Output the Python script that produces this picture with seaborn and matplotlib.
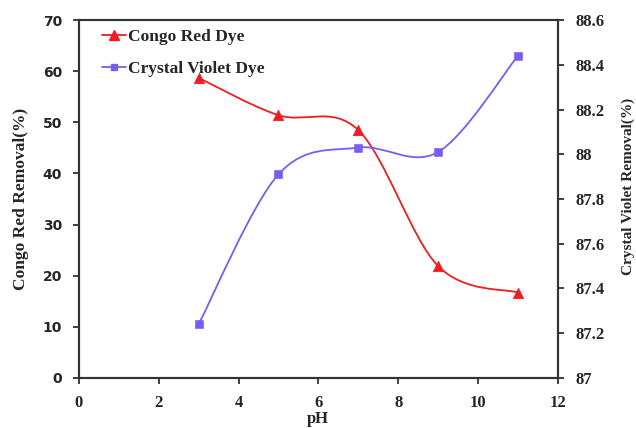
import numpy as np
import matplotlib
matplotlib.use('Agg')
import matplotlib.pyplot as plt
import seaborn as sns
from matplotlib.path import Path
from matplotlib.patches import PathPatch
from matplotlib.lines import Line2D

# pH values and removal (%) for the two dyes
ph = [3, 5, 7, 9, 11]
congo_red = [58.7, 51.4, 48.5, 21.9, 16.7]
crystal_violet = [87.24, 87.91, 88.03, 88.01, 88.44]

red = '#ee1d23'
violet = '#7b5cf0'


def smooth_path(x, y):
    # Excel-style smoothed line: cubic Bezier segments through the points
    pts = np.column_stack([x, y]).astype(float)
    verts = [pts[0]]
    codes = [Path.MOVETO]
    n = len(pts)
    for i in range(n - 1):
        p0 = pts[i - 1] if i > 0 else pts[i]
        p1 = pts[i]
        p2 = pts[i + 1]
        p3 = pts[i + 2] if i + 2 < n else pts[i + 1]
        c1 = p1 + (p2 - p0) / 6
        c2 = p2 - (p3 - p1) / 6
        verts += [c1, c2, p2]
        codes += [Path.CURVE4] * 3
    return Path(verts, codes)


sns.set_style('white')
serif = 'Liberation Serif'
fig, ax = plt.subplots(figsize=(6.36, 4.28), dpi=100)
ax2 = ax.twinx()

ax.add_patch(PathPatch(smooth_path(ph, congo_red), fc='none', ec=red, lw=1.3))
sns.scatterplot(x=ph, y=congo_red, ax=ax, marker='^', color=red, s=55,
                edgecolor=red, legend=False, zorder=3)

ax2.add_patch(PathPatch(smooth_path(ph, crystal_violet), fc='none', ec=violet, lw=1.3))
sns.scatterplot(x=ph, y=crystal_violet, ax=ax2, marker='s', color=violet, s=30,
                edgecolor=violet, legend=False, zorder=3)

ax.set_xlim(0, 12)
ax.set_ylim(0, 70)
ax2.set_ylim(87, 88.6)
ax.set_xticks(range(0, 13, 2))
ax.set_yticks(range(0, 71, 10))
r_ticks = np.round(np.arange(87, 88.61, 0.2), 1)
ax2.set_yticks(r_ticks)
ax2.set_yticklabels([f'{t:g}' for t in r_ticks])

for a in (ax, ax2):
    for s in a.spines.values():
        s.set_color('#333333')
        s.set_linewidth(1.5)
    a.tick_params(direction='out', length=4, width=1.3, color='#333333')

ax.tick_params(axis='x', bottom=True, labelsize=12, pad=8)
ax.tick_params(axis='y', left=True, labelsize=10, pad=8)
ax2.tick_params(axis='y', right=True, labelsize=12, pad=9)
for lab in ax.get_xticklabels() + ax2.get_yticklabels():
    lab.set_fontfamily(serif)
    lab.set_fontweight('bold')
for lab in ax.get_yticklabels():
    lab.set_fontfamily('DejaVu Sans')
    lab.set_fontweight('bold')

ax.set_xlabel('pH', fontfamily=serif, fontweight='bold', fontsize=12)
ax.set_ylabel('Congo Red Removal(%)', fontfamily=serif, fontweight='bold', fontsize=12.5)
ax2.set_ylabel('Crystal Violet Removal(%)', fontfamily=serif, fontweight='bold', fontsize=11,
               rotation=90)
ax.xaxis.set_label_coords(0.5, -0.093)
ax.yaxis.set_label_coords(-0.104, 0.5)
ax2.yaxis.set_label_coords(1.134, 0.536)

handles = [Line2D([], [], color=red, marker='^', ms=7, lw=1.3),
           Line2D([], [], color=violet, marker='s', ms=5, lw=1.3)]
ax.legend(handles, ['Congo Red Dye', 'Crystal Violet Dye'], loc='upper left',
          bbox_to_anchor=(0.015, 1.02), frameon=False, handlelength=1.4, handletextpad=0.1,
          labelspacing=0.95, prop={'family': serif, 'weight': 'bold', 'size': 12.5})

fig.subplots_adjust(left=0.124, right=0.877, top=0.953, bottom=0.117)
fig.savefig('out.png', dpi=100)
